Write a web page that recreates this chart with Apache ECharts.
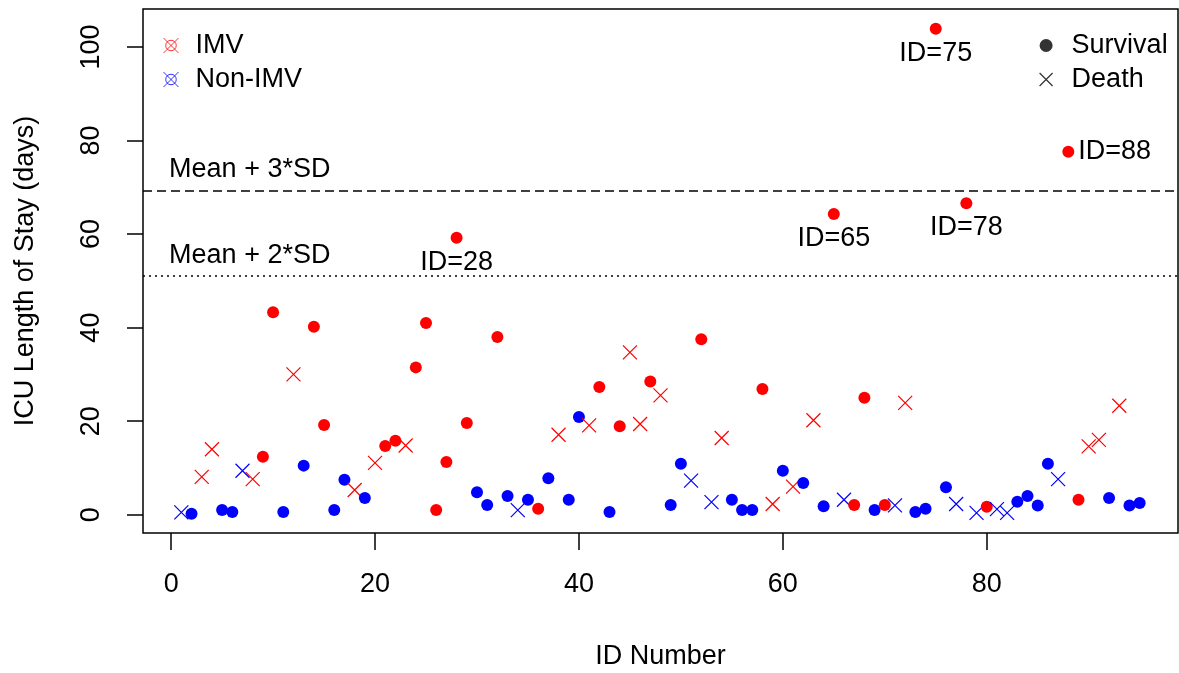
<!DOCTYPE html>
<html>
<head>
<meta charset="utf-8">
<title>ICU Length of Stay</title>
<script src="https://cdn.jsdelivr.net/npm/echarts@6/dist/echarts.min.js"></script>
<style>
    html, body { margin: 0; padding: 0; background: #fff; }
    #main { width: 1179px; height: 673px; }
</style>
</head>
<body>
<div id="main"></div>
<script>
// values
const idNumber = [
    1, 2, 3, 4, 5, 6, 7, 8, 9, 10, 11, 12, 13, 14, 15, 16, 17, 18, 19, 20,
    21, 22, 23, 24, 25, 26, 27, 28, 29, 30, 31, 32, 33, 34, 35, 36, 37, 38, 39, 40,
    41, 42, 43, 44, 45, 46, 47, 48, 49, 50, 51, 52, 53, 54, 55, 56, 57, 58, 59, 60,
    61, 62, 63, 64, 65, 66, 67, 68, 69, 70, 71, 72, 73, 74, 75, 76, 77, 78, 79, 80,
    81, 82, 83, 84, 85, 86, 87, 88, 89, 90, 91, 92, 93, 94, 95
];
const losDays = [
    0.5, 0.2, 8.1, 14.0, 1.0, 0.6, 9.4, 7.6, 12.4, 43.3,
    0.6, 30.0, 10.5, 40.2, 19.2, 1.0, 7.5, 5.3, 3.6, 11.1,
    14.7, 15.8, 14.8, 31.5, 41.0, 1.0, 11.3, 59.2, 19.6, 4.8,
    2.1, 38.0, 4.0, 1.0, 3.2, 1.3, 7.8, 17.1, 3.2, 20.9,
    19.1, 27.3, 0.6, 18.9, 34.7, 19.4, 28.5, 25.5, 2.1, 10.9,
    7.3, 37.5, 2.7, 16.4, 3.2, 1.0, 1.0, 26.9, 2.3, 9.4,
    6.0, 6.8, 20.2, 1.8, 64.3, 3.2, 2.1, 25.0, 1.0, 2.1,
    2.0, 23.9, 0.6, 1.3, 103.9, 5.9, 2.3, 66.6, 0.4, 1.7,
    1.2, 0.4, 2.8, 4.0, 2.0, 10.9, 7.6, 77.6, 3.2, 14.6,
    16.0, 3.6, 23.3, 2.0, 2.5
];
// 1 = IMV, 0 = Non-IMV
const imv = [
    0, 0, 1, 1, 0, 0, 0, 1, 1, 1, 0, 1, 0, 1, 1, 0, 0, 1, 0, 1,
    1, 1, 1, 1, 1, 1, 1, 1, 1, 0, 0, 1, 0, 0, 0, 1, 0, 1, 0, 0,
    1, 1, 0, 1, 1, 1, 1, 1, 0, 0, 0, 1, 0, 1, 0, 0, 0, 1, 1, 0,
    1, 0, 1, 0, 1, 0, 1, 1, 0, 1, 0, 1, 0, 0, 1, 0, 0, 1, 0, 1,
    0, 0, 0, 0, 0, 0, 0, 1, 1, 1, 1, 0, 1, 0, 0
];
// 1 = death, 0 = survival
const death = [
    1, 0, 1, 1, 0, 0, 1, 1, 0, 0, 0, 1, 0, 0, 0, 0, 0, 1, 0, 1,
    0, 0, 1, 0, 0, 0, 0, 0, 0, 0, 0, 0, 0, 1, 0, 0, 0, 1, 0, 0,
    1, 0, 0, 0, 1, 1, 0, 1, 0, 0, 1, 0, 1, 1, 0, 0, 0, 0, 1, 0,
    1, 0, 1, 0, 0, 1, 0, 0, 0, 0, 1, 1, 0, 0, 0, 0, 1, 0, 1, 0,
    1, 1, 0, 0, 0, 0, 1, 0, 0, 1, 1, 0, 1, 0, 0
];
const outlierIds = [28, 65, 75, 78, 88];
const refValues = [51.0, 69.2];
const refNames = ['Mean + 2*SD', 'Mean + 3*SD'];
const xTicks = [0, 20, 40, 60, 80];
const yTicks = [0, 20, 40, 60, 80, 100];

const FONT = '"Liberation Sans", Arial, sans-serif';
const RED = '#ff0000';
const BLUE = '#0000ff';
const CROSS = 'path://M0,0L10,10M10,0L0,10';
const CIRCLE_X = 'path://M8.5,5A3.5,3.5,0,1,1,1.5,5A3.5,3.5,0,1,1,8.5,5ZM0,0L10,10M10,0L0,10';
const txt = { fontFamily: FONT, fontSize: 27, color: '#000' };

// one series so points are drawn in ID order, like points() in R
const points = idNumber.map(function (id, i) {
    const col = imv[i] ? RED : BLUE;
    const item = { value: [id, losDays[i]] };
    if (death[i]) {
        item.symbol = CROSS;
        item.symbolSize = 14;
        item.itemStyle = { color: 'none', borderColor: col, borderWidth: 1.2, opacity: 1 };
    } else {
        item.symbol = 'circle';
        item.symbolSize = 12;
        item.itemStyle = { color: col, borderWidth: 0, opacity: 1 };
    }
    if (outlierIds.indexOf(id) >= 0) {
        item.label = {
            show: true,
            formatter: 'ID=' + id,
            position: id === 88 ? 'right' : 'bottom',
            distance: id === 88 ? 4 : 5,
            fontFamily: FONT, fontSize: 27, color: '#000', lineHeight: 27
        };
    }
    return item;
});

const notes = refValues.map(function (v, i) {
    return { name: refNames[i], value: [-0.2, v + 4.5] };
});

let myChart = echarts.init(document.getElementById('main'));
myChart.setOption({
    animation: false,
    backgroundColor: '#fff',
    grid: {
        left: 143, right: 1, top: 9, bottom: 140,
        outerBoundsMode: 'none',
        show: true, borderColor: '#000', borderWidth: 1.5
    },
    legend: [
        {
            orient: 'vertical', left: 163, top: 32, padding: 0,
            itemGap: 7, itemWidth: 15, itemHeight: 15, selectedMode: false,
            textStyle: Object.assign({ lineHeight: 27, padding: [0, 0, 0, 12] }, txt),
            data: [
                { name: 'IMV', icon: CIRCLE_X, itemStyle: { color: 'rgba(0,0,0,0)', borderColor: RED, borderWidth: 1 } },
                { name: 'Non-IMV', icon: CIRCLE_X, itemStyle: { color: 'rgba(0,0,0,0)', borderColor: BLUE, borderWidth: 1 } }
            ]
        },
        {
            orient: 'vertical', left: 1039, top: 32, padding: 0,
            itemGap: 7, itemWidth: 13, itemHeight: 13, selectedMode: false,
            textStyle: Object.assign({ lineHeight: 27, padding: [0, 0, 0, 14] }, txt),
            data: [
                { name: 'Survival', icon: 'circle', itemStyle: { color: '#000', borderWidth: 0 } },
                { name: 'Death', icon: CROSS, itemStyle: { color: 'rgba(0,0,0,0)', borderColor: '#000', borderWidth: 1.2 } }
            ]
        }
    ],
    xAxis: {
        type: 'value', min: -2.76, max: 98.76,
        splitLine: { show: false },
        axisLine: { show: false, onZero: false },
        axisTick: { show: true, length: 17, customValues: xTicks, lineStyle: { color: '#000', width: 1.5 } },
        axisLabel: Object.assign({ customValues: xTicks, margin: 38 }, txt),
        name: 'ID Number', nameLocation: 'middle', nameGap: 110,
        nameTextStyle: txt
    },
    yAxis: {
        type: 'value', min: -3.9, max: 108.1,
        splitLine: { show: false },
        axisLine: { show: false, onZero: false },
        axisTick: { show: true, length: 16, customValues: yTicks, lineStyle: { color: '#000', width: 1.5 } },
        axisLabel: Object.assign({ customValues: yTicks, rotate: 90, margin: 38 }, txt),
        name: 'ICU Length of Stay (days)', nameLocation: 'middle', nameRotate: 90, nameGap: 104,
        nameTextStyle: txt
    },
    series: [
        {
            name: 'points', type: 'scatter', silent: true,
            itemStyle: { opacity: 1 },
            emphasis: { disabled: true },
            data: points,
            markLine: {
                silent: true, symbol: ['none', 'none'],
                label: { show: false },
                lineStyle: { color: '#000', width: 1.5, opacity: 1 },
                data: [
                    { yAxis: refValues[0], lineStyle: { type: [2, 4] } },
                    { yAxis: refValues[1], lineStyle: { type: [9, 5] } }
                ]
            }
        },
        {
            name: 'notes', type: 'scatter', silent: true, symbolSize: 0,
            itemStyle: { opacity: 1 },
            data: notes,
            label: Object.assign({ show: true, position: 'right', distance: 0, formatter: '{b}' }, txt)
        },
        { name: 'IMV', type: 'scatter', data: [] },
        { name: 'Non-IMV', type: 'scatter', data: [] },
        { name: 'Survival', type: 'scatter', data: [] },
        { name: 'Death', type: 'scatter', data: [] }
    ]
});
window.onresize = myChart.resize;
</script>
</body>
</html>
